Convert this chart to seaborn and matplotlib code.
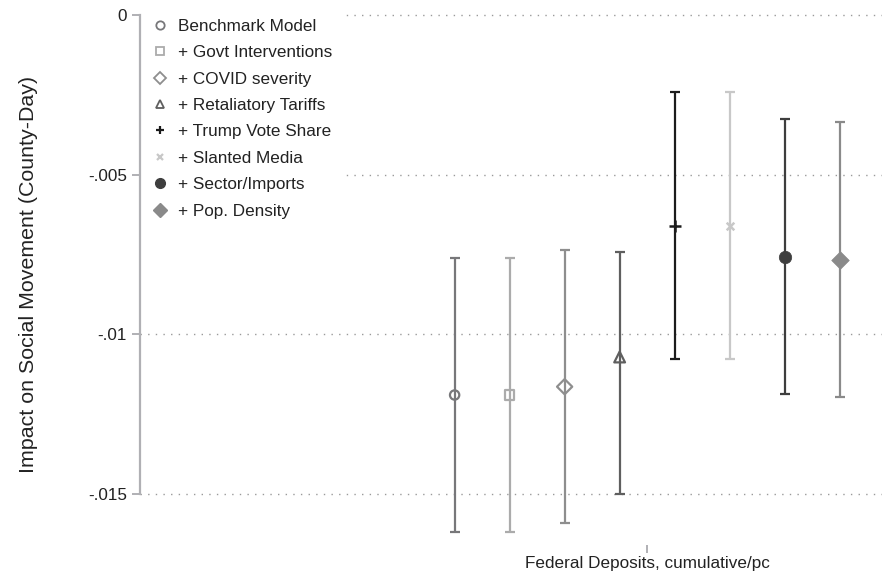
import numpy as np
import pandas as pd
import matplotlib
matplotlib.use("Agg")
import matplotlib.pyplot as plt
from matplotlib.lines import Line2D
import seaborn as sns

# Coefficient estimates and 95% confidence bounds, one per specification
models = ["Benchmark Model", "+ Govt Interventions", "+ COVID severity",
          "+ Retaliatory Tariffs", "+ Trump Vote Share", "+ Slanted Media",
          "+ Sector/Imports", "+ Pop. Density"]
coef = [-0.01190, -0.01190, -0.01164, -0.01071, -0.00660, -0.00660, -0.00757, -0.00767]
ci_low = [-0.01618, -0.01618, -0.01592, -0.01500, -0.01078, -0.01078, -0.01187, -0.01195]
ci_high = [-0.00761, -0.00761, -0.00736, -0.00742, -0.00242, -0.00242, -0.00327, -0.00335]

ytick_values = [0, -0.005, -0.01, -0.015]
ytick_labels = ["0", "-.005", "-.01", "-.015"]
xtick_label = "Federal Deposits, cumulative/pc"
ylabel = "Impact on Social Movement (County-Day)"

# Styling for each specification: line colour, marker, face, size
line_colors = ["#77777a", "#ababab", "#8e8e8e", "#5f5f5f", "#1c1c1c", "#c8c8c8", "#3e3e3e", "#8a8a8a"]
markers = ["o", "s", "D", "^", "+", "x", "o", "D"]
filled = [False, False, False, False, True, True, True, True]
msizes = [45, 45, 60, 60, 70, 30, 80, 80]

df = pd.DataFrame({"model": models, "coef": coef, "lo": ci_low, "hi": ci_high})
df["x"] = np.arange(len(models)) - (len(models) - 1) / 2

sns.set_theme(style="white")
plt.rcParams["font.family"] = ["Liberation Sans", "DejaVu Sans"]

fig = plt.figure(figsize=(8.82, 5.77), dpi=100)
ax = fig.add_axes([140 / 882, 32 / 577, 742 / 882, 533 / 577])

for i, row in df.iterrows():
    c = line_colors[i]
    ax.errorbar(row["x"], row["coef"],
                yerr=[[row["coef"] - row["lo"]], [row["hi"] - row["coef"]]],
                fmt="none", ecolor=c, elinewidth=1.6, capsize=3.6, capthick=1.6, zorder=3)
    sub = df.iloc[[i]]
    if markers[i] in ("+", "x"):
        sns.scatterplot(data=sub, x="x", y="coef", marker=markers[i], color=c,
                        s=msizes[i], linewidth=1.8, ax=ax, zorder=4, legend=False)
    elif filled[i]:
        sns.scatterplot(data=sub, x="x", y="coef", marker=markers[i], color=c,
                        edgecolor=c, s=msizes[i], linewidth=0.5, ax=ax, zorder=4, legend=False)
    else:
        sns.scatterplot(data=sub, x="x", y="coef", marker=markers[i], facecolor="none",
                        edgecolor=c, s=msizes[i], linewidth=1.6, ax=ax, zorder=4, legend=False)

# Axes limits and horizontal reference lines
ax.set_xlim(-9.22, 4.27)
ax.set_ylim(-0.016597, 0.0000939)
for v in ytick_values:
    ax.axhline(v, color="#9a9a9a", linewidth=1.0, linestyle=(0, (1, 4.5)), zorder=1)

for side in ["top", "right", "bottom"]:
    ax.spines[side].set_visible(False)
ax.spines["left"].set_color("#b0b0b4")
ax.spines["left"].set_linewidth(1.6)
ax.spines["left"].set_bounds(-0.015, 0)
ax.spines["left"].set_zorder(6)

ax.set_yticks(ytick_values)
ax.set_yticklabels(ytick_labels)
ax.set_xticks([0])
ax.set_xticklabels([xtick_label])
ax.tick_params(axis="y", which="major", left=True, length=5.8, width=1.4, color="#b0b0b4",
               pad=3.6, labelsize=12.3, labelcolor="#222222")
ax.tick_params(axis="x", which="major", bottom=True, length=5.8, width=1.4, color="#b0b0b4",
               pad=2.2, labelsize=12.3, labelcolor="#222222")
ax.set_xlabel("")
ax.set_ylabel(ylabel, fontsize=15.4, color="#222222")
ax.yaxis.set_label_coords(-0.138, 0.508)

# Legend with one marker per specification
handles = []
for i, m in enumerate(models):
    c = line_colors[i]
    if markers[i] in ("+", "x"):
        h = Line2D([], [], linestyle="none", marker=markers[i], color=c,
                   markersize=6 if markers[i] == "+" else 4.5, markeredgewidth=1.6)
    elif filled[i]:
        h = Line2D([], [], linestyle="none", marker=markers[i], color=c,
                   markerfacecolor=c, markeredgecolor=c, markersize=7 if markers[i] == "o" else 7.5)
    else:
        h = Line2D([], [], linestyle="none", marker=markers[i], markerfacecolor="none",
                   markeredgecolor=c, markeredgewidth=1.3, markersize=6 if markers[i] != "D" else 6.5)
    handles.append(h)

leg = ax.legend(handles, models, loc="upper left", bbox_to_anchor=(0.0005, 1.0109),
                borderaxespad=0, borderpad=0.75, handlelength=0.8, handletextpad=0.65,
                labelspacing=0.665, fontsize=12.3, frameon=True, fancybox=False)
leg.get_frame().set_facecolor("white")
leg.get_frame().set_edgecolor("white")
leg.get_frame().set_alpha(1.0)
leg.set_zorder(2)
for t in leg.get_texts():
    t.set_color("#222222")

fig.savefig("out.png", dpi=100, facecolor="white")
